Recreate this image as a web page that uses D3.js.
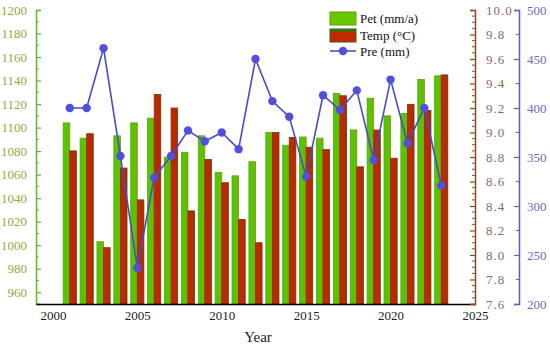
<!DOCTYPE html>
<html lang="en">
<head>
<meta charset="utf-8">
<title>Pet, Temp and Pre by year</title>
<script src="https://d3js.org/d3.v7.min.js"></script>
<style>
  body { margin: 0; background: #fff; }
  text { font-family: "Liberation Serif", "DejaVu Serif", serif; }
</style>
</head>
<body>
<script>
// data
var years = [2001, 2002, 2003, 2004, 2005, 2006, 2007, 2008, 2009, 2010, 2011, 2012,
             2013, 2014, 2015, 2016, 2017, 2018, 2019, 2020, 2021, 2022, 2023];
var pet  = [1104, 1091, 1003, 1093, 1104, 1108, 1075, 1079, 1093, 1062, 1059, 1071,
            1096, 1085, 1092, 1091, 1129, 1098, 1125, 1110, 1112, 1141, 1144];
var temp = [8.85, 8.99, 8.06, 8.71, 8.45, 9.31, 9.20, 8.36, 8.78, 8.59, 8.29, 8.10,
            9.00, 8.96, 8.88, 8.86, 9.30, 8.72, 9.02, 8.79, 9.23, 9.18, 9.47];
var pre  = [400, 400, 461, 351, 237, 329, 351, 377, 366, 375, 358, 450,
            407, 391, 330, 413, 398, 418, 347, 429, 364, 400, 321];
var xTicks = [2000, 2005, 2010, 2015, 2020, 2025];

var w = 550, h = 348;
var mLeft = 36, mRight = 475, mTop = 10, mBottom = 304;

var svg = d3.select("body").append("svg")
    .attr("width", w)
    .attr("height", h);

var defs = svg.append("defs");
var gGreen = defs.append("linearGradient").attr("id", "gGreen")
    .attr("x1", 0).attr("x2", 1).attr("y1", 0).attr("y2", 0);
gGreen.append("stop").attr("offset", "0%").attr("stop-color", "#3ad400");
gGreen.append("stop").attr("offset", "100%").attr("stop-color", "#7fb000");
var gRed = defs.append("linearGradient").attr("id", "gRed")
    .attr("x1", 0).attr("x2", 1).attr("y1", 0).attr("y2", 0);
gRed.append("stop").attr("offset", "0%").attr("stop-color", "#d42000");
gRed.append("stop").attr("offset", "100%").attr("stop-color", "#a83000");

//scales
var xScale = d3.scaleLinear().domain([1999, 2025]).range([mLeft, mRight]);
var yPet = d3.scaleLinear().domain([950, 1200]).range([mBottom, mTop]);
var yTemp = d3.scaleLinear().domain([7.6, 10.0]).range([mBottom, mTop]);
var yPre = d3.scaleLinear().domain([200, 500]).range([mBottom, mTop]);

var bw = xScale(2001) - xScale(2000);
var barW = bw * 0.39;

//green bars (Pet)
svg.selectAll("rect.pet")
   .data(years)
   .enter()
   .append("rect")
   .attr("class", "pet")
   .attr("x", function(d) { return xScale(d) - barW; })
   .attr("y", function(d, i) { return yPet(pet[i]); })
   .attr("width", barW)
   .attr("height", function(d, i) { return mBottom - yPet(pet[i]); })
   .attr("fill", "url(#gGreen)")
   .attr("stroke", "#6c9a10")
   .attr("stroke-width", 0.8);

//red bars (Temp)
svg.selectAll("rect.temp")
   .data(years)
   .enter()
   .append("rect")
   .attr("class", "temp")
   .attr("x", function(d) { return xScale(d); })
   .attr("y", function(d, i) { return yTemp(temp[i]); })
   .attr("width", barW)
   .attr("height", function(d, i) { return mBottom - yTemp(temp[i]); })
   .attr("fill", "url(#gRed)")
   .attr("stroke", "#6b3a08")
   .attr("stroke-width", 0.8);

//Pre line
var line = d3.line()
    .x(function(d) { return xScale(d); })
    .y(function(d, i) { return yPre(pre[i]); });

svg.append("path")
   .datum(years)
   .attr("d", line)
   .attr("fill", "none")
   .attr("stroke", "#4a4ac8")
   .attr("stroke-width", 1.6);

svg.selectAll("circle.pre")
   .data(years)
   .enter()
   .append("circle")
   .attr("class", "pre")
   .attr("cx", function(d) { return xScale(d); })
   .attr("cy", function(d, i) { return yPre(pre[i]); })
   .attr("r", 4.2)
   .attr("fill", "#5050dc");

//left axis (Pet)
var petAxis = d3.axisLeft(yPet).tickValues(d3.range(960, 1201, 20))
    .tickSize(-5).tickPadding(9).tickFormat(d3.format("d"));
var gl = svg.append("g")
    .attr("transform", "translate(" + mLeft + ",0)")
    .call(petAxis);
gl.select(".domain").attr("stroke", "#5cb82e").attr("stroke-width", 1.5);
gl.selectAll(".tick line").attr("stroke", "#5cb82e").attr("stroke-width", 1.2);
gl.selectAll(".tick text").attr("fill", "#9aa63e").attr("font-size", "13px")
    .attr("font-family", "Liberation Serif, serif");
gl.append("g").selectAll("line")
    .data(d3.range(950, 1200, 10).filter(function(d) { return d % 20 === 10; }))
    .enter().append("line")
    .attr("x1", 0).attr("x2", 3)
    .attr("y1", function(d) { return yPet(d); }).attr("y2", function(d) { return yPet(d); })
    .attr("stroke", "#5cb82e");

//bottom axis
var xAxis = d3.axisBottom(xScale).tickValues(xTicks).tickSize(0).tickPadding(7)
    .tickFormat(d3.format("d"));
var gx = svg.append("g")
    .attr("transform", "translate(0," + mBottom + ")")
    .call(xAxis);
gx.select(".domain").attr("stroke", "#000").attr("stroke-width", 1.5);
gx.selectAll(".tick text").attr("fill", "#222").attr("font-size", "13px")
    .attr("font-family", "Liberation Serif, serif");

svg.append("text")
   .attr("x", 258)
   .attr("y", 342)
   .attr("text-anchor", "middle")
   .attr("font-size", "15px")
   .attr("fill", "#222")
   .text("Year");

//right axis (Temp)
var tempAxis = d3.axisRight(yTemp).tickValues(d3.range(0, 13).map(function(i) { return 7.6 + i * 0.2; }))
    .tickSize(-5).tickPadding(11).tickFormat(d3.format(".1f"));
var gt = svg.append("g")
    .attr("transform", "translate(" + mRight + ",0)")
    .call(tempAxis);
gt.select(".domain").attr("stroke", "#8b4a1e").attr("stroke-width", 1.5);
gt.selectAll(".tick line").attr("stroke", "#8b4a1e").attr("stroke-width", 1.2);
gt.selectAll(".tick text").attr("fill", "#8e6a55").attr("font-size", "13px")
    .attr("font-family", "Liberation Serif, serif").attr("letter-spacing", "1px");
gt.append("g").selectAll("line")
    .data(d3.range(0, 48).filter(function(i) { return i % 4 !== 0; })
        .map(function(i) { return 7.6 + i * 0.05; }))
    .enter().append("line")
    .attr("x1", 0).attr("x2", -3)
    .attr("y1", function(d) { return yTemp(d); }).attr("y2", function(d) { return yTemp(d); })
    .attr("stroke", "#8b4a1e");

//right axis (Pre)
var preAxis = d3.axisRight(yPre).tickValues(d3.range(200, 501, 50))
    .tickSize(-5).tickPadding(8).tickFormat(d3.format("d"));
var gp = svg.append("g")
    .attr("transform", "translate(519,0)")
    .call(preAxis);
gp.select(".domain").attr("stroke", "#5a5acc").attr("stroke-width", 1.5);
gp.selectAll(".tick line").attr("stroke", "#5a5acc").attr("stroke-width", 1.2);
gp.selectAll(".tick text").attr("fill", "#6a6ac0").attr("font-size", "13px")
    .attr("font-family", "Liberation Serif, serif");
gp.append("g").selectAll("line")
    .data(d3.range(225, 500, 50))
    .enter().append("line")
    .attr("x1", 0).attr("x2", -3)
    .attr("y1", function(d) { return yPre(d); }).attr("y2", function(d) { return yPre(d); })
    .attr("stroke", "#5a5acc");

//legend
var lg = svg.append("g").attr("transform", "translate(330,12)");
lg.append("rect").attr("x", 0).attr("y", 0).attr("width", 26).attr("height", 13)
    .attr("fill", "#66c800").attr("stroke", "#6c9a10");
lg.append("rect").attr("x", 0).attr("y", 17).attr("width", 26).attr("height", 13)
    .attr("fill", "#c42800").attr("stroke", "#3e5a10").attr("stroke-width", 1);
lg.append("rect").attr("x", 0).attr("y", 17).attr("width", 26).attr("height", 3)
    .attr("fill", "#3e6a10");
lg.append("line").attr("x1", 0).attr("x2", 26).attr("y1", 39).attr("y2", 39)
    .attr("stroke", "#4a4ac8").attr("stroke-width", 1.6);
lg.append("circle").attr("cx", 13).attr("cy", 39).attr("r", 4.2).attr("fill", "#5050dc");
var labels = ["Pet (mm/a)", "Temp (\u00B0C)", "Pre (mm)"];
lg.selectAll("text.lab")
  .data(labels)
  .enter()
  .append("text")
  .attr("class", "lab")
  .attr("x", 30)
  .attr("y", function(d, i) { return 11 + i * 16.5; })
  .attr("font-size", "13px")
  .attr("fill", "#111")
  .text(function(d) { return d; });
</script>
</body>
</html>
